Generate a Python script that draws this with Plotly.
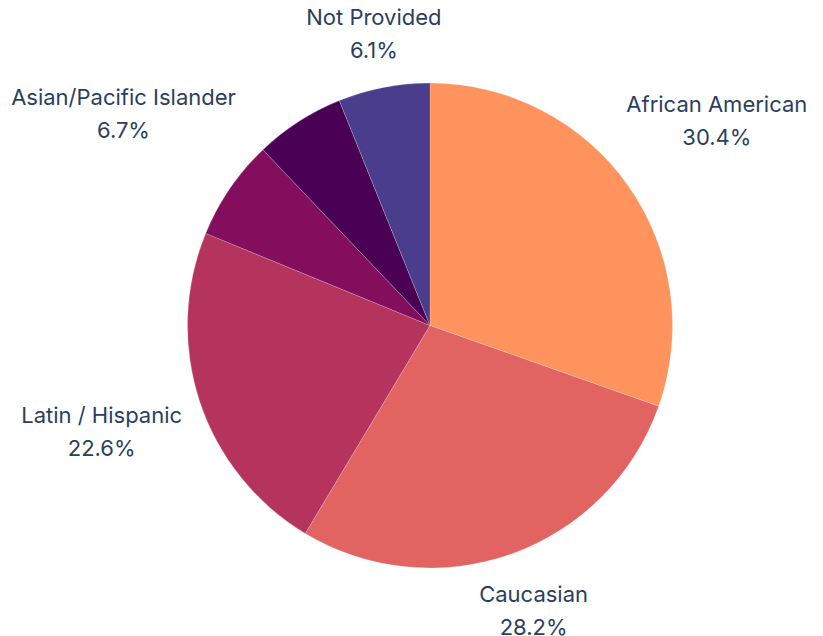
import math
import plotly.graph_objects as go

labels = ["African American", "Caucasian", "Latin / Hispanic", "Asian/Pacific Islander", "Other", "Not Provided"]
values = [30.4, 28.2, 22.6, 6.7, 6.0, 6.1]
show_label = [True, True, True, True, False, True]
colors = ["#FE935E", "#E16462", "#B5345E", "#840E5E", "#4A0055", "#4A3D8B"]

# ---- layout constants (figure pixels) ----
W, H = 823, 636
CX, CY = 430.0, 325.5    # pie centre, from top-left of the figure
R = 242.5                # pie radius
GAP = 19                 # distance between pie edge and label box
TOP_ADJ = -8             # labels straight above the pie sit a little closer
BOX_H = 56               # two-line label box height
LINE_OFF = 16.5          # half distance between the two label lines
FONT = dict(family="Inter, Roboto, sans-serif", size=22, color="#2a3f5f")

NARROW = set("il/ .Ifjt|1")
WIDE = set("mwMW")


def text_width(s):
    return sum(6.7 if c in NARROW else 17.0 if c in WIDE else 12.5 for c in s)


# ---- label anchor positions computed from the values ----
total = sum(values)
cum = 0.0
name_x, name_y, name_t = [], [], []
pct_x, pct_y, pct_t = [], [], []
for lab, v, show in zip(labels, values, show_label):
    mid = (cum + v / 2) / total * 2 * math.pi
    cum += v
    if not show:
        continue
    dx, dy = math.sin(mid), math.cos(mid)
    w = text_width(lab)
    rad = (R + GAP + TOP_ADJ * max(dy, 0) ** 6
           + abs(dx) * w / 2 + abs(dy) * BOX_H / 2)
    x, y = rad * dx, rad * dy
    name_x.append(x); name_y.append(y + LINE_OFF); name_t.append(lab)
    pct_x.append(x); pct_y.append(y - LINE_OFF); pct_t.append(f"{v / total * 100:.1f}%")

fig = go.Figure()
fig.add_trace(go.Pie(
    labels=labels,
    values=values,
    textinfo="none",
    sort=False,
    direction="clockwise",
    rotation=0,
    marker=dict(colors=colors, line=dict(color="rgba(255,255,255,0.4)", width=0.5)),
    showlegend=False,
    hoverinfo="label+percent",
    domain=dict(x=[(CX - R) / W, (CX + R) / W],
                y=[(H - CY - R) / H, (H - CY + R) / H]),
))
fig.add_trace(go.Scatter(x=name_x, y=name_y, text=name_t, mode="text",
                         textposition="middle center", textfont=FONT,
                         cliponaxis=False, showlegend=False, hoverinfo="skip"))
fig.add_trace(go.Scatter(x=pct_x, y=pct_y, text=pct_t, mode="text",
                         textposition="middle center", textfont=FONT,
                         cliponaxis=False, showlegend=False, hoverinfo="skip"))

fig.update_layout(
    width=W, height=H,
    margin=dict(l=0, r=0, t=0, b=0, autoexpand=False),
    paper_bgcolor="white",
    plot_bgcolor="rgba(0,0,0,0)",
    xaxis=dict(range=[-CX, W - CX], visible=False, fixedrange=True, domain=[0, 1]),
    yaxis=dict(range=[-(H - CY), CY], visible=False, fixedrange=True, domain=[0, 1]),
)

fig.write_html("out.html", config={"displayModeBar": False},
               post_script="document.body.style.margin='0px';")
